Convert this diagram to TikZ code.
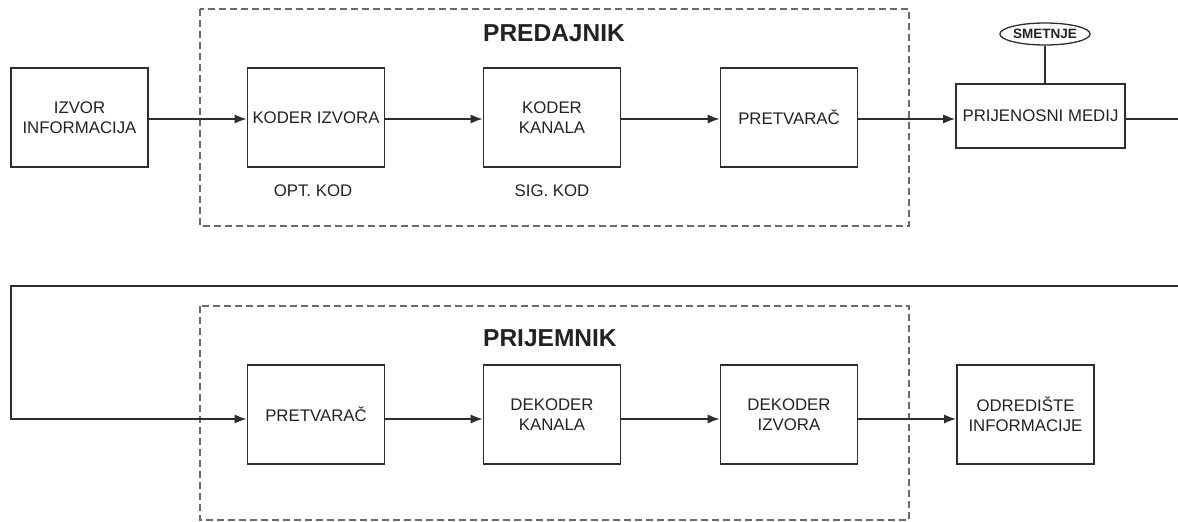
\documentclass[tikz,border=0pt]{standalone}
\usepackage{fontspec}
\setmainfont{Liberation Sans}
\usetikzlibrary{arrows.meta,shapes.geometric}
\definecolor{ln}{HTML}{2E2E2E}
\definecolor{dsh}{HTML}{6A6A6A}
\definecolor{tx}{HTML}{222222}
\tikzset{
  blk/.style={draw=ln,line width=1.6pt,rectangle,minimum width=137pt,minimum height=99pt,inner sep=0pt,align=center,text=tx,font=\fontsize{16.8}{20}\selectfont},
  grp/.style={draw=dsh,line width=1.3pt,dash pattern=on 7pt off 4pt},
  conn/.style={draw=ln,line width=1.6pt},
  arr/.style={conn,-{Latex[length=12pt,width=9pt]}},
  ttl/.style={font=\fontsize{24.5}{27}\selectfont\bfseries,text=tx,anchor=west,inner sep=0pt},
  lbl/.style={font=\fontsize{16.8}{20}\selectfont,text=tx,inner sep=0pt}
}
\begin{document}
\begin{tikzpicture}[x=1pt,y=-1pt]
\useasboundingbox (0,0) rectangle (1178,522);
% group frames
\draw[grp] (200,9) rectangle (909,226);
\draw[grp] (200,306) rectangle (909,520);
\node[ttl] (tpred) at (483,33) {PREDAJNIK};
\node[ttl] (tprij) at (483,338) {PRIJEMNIK};
% top row
\node[blk] (izvor) at (79.5,117.5) {IZVOR\\INFORMACIJA};
\node[blk] (kodiz) at (316,117.5) {KODER IZVORA};
\node[blk] (kodka) at (552,117.5) {KODER\\KANALA};
\node[blk] (pret1) at (789,117.5) {PRETVARAČ};
\node[blk,minimum width=169pt,minimum height=64pt] (medij) at (1040.5,116) {PRIJENOSNI MEDIJ};
\node[draw=ln,line width=1.3pt,ellipse,minimum width=80pt,minimum height=22pt,inner sep=0pt,text=tx,font=\fontsize{13.5}{15}\selectfont\bfseries] (smet) at (1045,34) {SMETNJE};
\node[lbl] (opt) at (313,191) {OPT. KOD};
\node[lbl] (sig) at (552,191) {SIG. KOD};
% bottom row
\node[blk] (pret2) at (316,414.5) {PRETVARAČ};
\node[blk] (dekka) at (552,414.5) {DEKODER\\KANALA};
\node[blk] (dekiz) at (789,414.5) {DEKODER\\IZVORA};
\node[blk] (odred) at (1025.5,414.5) {ODREDIŠTE\\INFORMACIJE};
% helper coordinates
\coordinate (ty) at (0,119);
\coordinate (by) at (0,419);
\coordinate (outR) at (1180,119);
\coordinate (inR) at (1180,286);
\coordinate (retL) at (11,286);
\coordinate (retLB) at (11,419);
% connectors
\draw[arr] (izvor.east |- ty) -- (kodiz.west |- ty);
\draw[arr] (kodiz.east |- ty) -- (kodka.west |- ty);
\draw[arr] (kodka.east |- ty) -- (pret1.west |- ty);
\draw[arr] (pret1.east |- ty) -- (medij.west |- ty);
\draw[conn] (medij.east |- ty) -- (outR);
\draw[conn] (smet.south) -- (medij.north -| smet.south);
\draw[arr] (inR) -- (retL) -- (retLB) -- (pret2.west |- by);
\draw[arr] (pret2.east |- by) -- (dekka.west |- by);
\draw[arr] (dekka.east |- by) -- (dekiz.west |- by);
\draw[arr] (dekiz.east |- by) -- (odred.west |- by);
\end{tikzpicture}
\end{document}
